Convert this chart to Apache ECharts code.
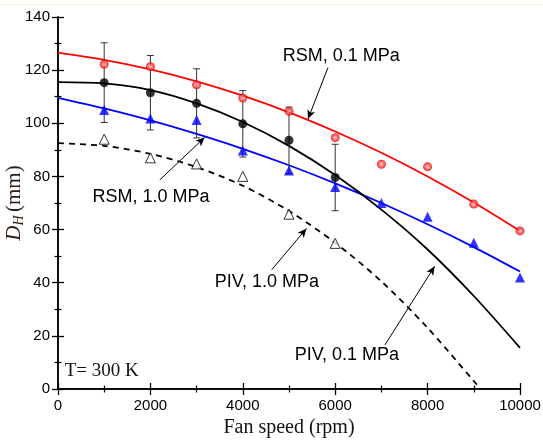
<!DOCTYPE html>
<html><head><meta charset="utf-8">
<script src="https://cdn.jsdelivr.net/npm/echarts@6/dist/echarts.min.js"></script>
<style>html,body{margin:0;padding:0;background:#fff}#c{width:543px;height:440px}</style>
</head><body><div id="c"></div>
<script>
// ---- data ----
const speeds = [1000, 2000, 3000, 4000, 5000, 6000, 7000, 8000, 9000, 10000];
const redPoints = [122.2, 121.3, 114.5, 109.5, 104.5, 94.6, 84.6, 83.6, 69.6, 59.5];
const blackSpeeds = [1000, 2000, 3000, 4000, 5000, 6000];
const blackPoints = [115.3, 111.5, 107.5, 99.8, 93.6, 79.6];
const blackErr = [15, 14, 13, 12.5, 12.5, 12.5];
const bluePoints = [105, 101.8, 101.2, 89.8, 82.2, 76, 70, 64.8, 55, 42];
const openSpeeds = [1000, 2000, 3000, 4000, 5000, 6000];
const openPoints = [94, 87, 84.7, 80, 65.8, 54.8];
// fitted curves
const curveX = [0, 1000, 2000, 3000, 4000, 5000, 6000, 7000, 8000, 9000, 10000];
const redCurve = [126.6, 123.9, 120.3, 115.8, 110.4, 104.1, 96.9, 88.9, 80, 70.2, 59.5];
const blackCurve = [115.5, 115, 112.5, 107.5, 100.5, 91.5, 80.5, 67.5, 52.5, 35, 15.5];
const blueCurve = [109.6, 105.6, 101.1, 96, 90.4, 84.2, 77.4, 70, 62, 53.4, 44.2];
const dashX = [0, 1000, 2000, 3000, 4000, 5000, 6000, 7000, 8000, 9000, 9150];
const dashCurve = [92.5, 91.5, 88.5, 83.5, 76.5, 67, 55, 40.5, 23, 3, 0];
// annotations: [text, x, y] (data coords of text left/center) and arrows [from, to]
const annTexts = [
  ['RSM, 0.1 MPa', 4864, 125.3],
  ['RSM, 1.0 MPa', 745, 72.2],
  ['PIV, 1.0 MPa', 3392, 40.2],
  ['PIV, 0.1 MPa', 5123, 12.9]
];
const annArrows = [
  [[5844, 121], [5411, 101.6]],
  [[2203, 78.7], [3175, 94.7]],
  [[4626, 44.9], [5379, 60.4]],
  [[7078, 16.6], [8153, 46.2]]
];
const tempLabel = ['T= 300 K', 145, 6.9];

const zip = (xs, ys) => xs.map((x, i) => [x, ys[i]]);
const errData = blackSpeeds.map((x, i) => [x, blackPoints[i] - blackErr[i], blackPoints[i] + blackErr[i]]);

const chart = echarts.init(document.getElementById('c'), null, {renderer: 'canvas'});
const axisCommon = {
  axisLine: {lineStyle: {color: '#000', width: 1.5}},
  axisTick: {inside: true, length: 6, lineStyle: {color: '#000', width: 1.3}},
  minorTick: {show: true, splitNumber: 2, length: 3.5, lineStyle: {color: '#000', width: 1.2}},
  splitLine: {show: false}
};
const labelFont = {fontFamily: 'Liberation Sans, Arial', fontSize: 15, color: '#000'};
const curveCommon = {smooth: 0.3, symbol: 'none', z: 2};

const option = {
  animation: false,
  backgroundColor: '#fff',
  grid: {left: 58, right: 23, top: 17, bottom: 51, containLabel: false, outerBoundsMode: 'none'},
  xAxis: [
    Object.assign({type: 'value', min: 0, max: 10000, interval: 2000, position: 'bottom',
      name: 'Fan speed (rpm)', nameLocation: 'middle', nameGap: 25,
      nameTextStyle: {fontFamily: 'Liberation Serif, Times New Roman', fontSize: 20, color: '#111'},
      axisLabel: Object.assign({margin: 9, formatter: v => String(v)}, labelFont)}, axisCommon),
    Object.assign({type: 'value', min: 0, max: 10000, interval: 2000, position: 'top',
      axisLabel: {show: false}}, axisCommon)
  ],
  yAxis: [
    Object.assign({type: 'value', min: 0, max: 140, interval: 20, position: 'left',
      axisLabel: Object.assign({margin: 8, formatter: v => String(v)}, labelFont)}, axisCommon),
    Object.assign({type: 'value', min: 0, max: 140, interval: 20, position: 'right',
      axisLabel: {show: false}}, axisCommon)
  ],
  series: [
    Object.assign({type: 'line', name: 'RSM, 0.1 MPa', data: zip(curveX, redCurve),
      lineStyle: {color: '#ff0000', width: 1.8},
      markLine: {silent: true, symbol: ['none', 'arrow'], symbolSize: [6, 9],
        lineStyle: {color: '#000', width: 1, type: 'solid'}, label: {show: false},
        data: annArrows.map(a => [{coord: a[0]}, {coord: a[1]}])}}, curveCommon),
    Object.assign({type: 'line', name: 'RSM, 1.0 MPa', data: zip(curveX, blueCurve),
      lineStyle: {color: '#0000ff', width: 1.8}}, curveCommon),
    Object.assign({type: 'line', name: 'PIV, 0.1 MPa', data: zip(curveX, blackCurve),
      lineStyle: {color: '#000', width: 1.8}}, curveCommon),
    Object.assign({type: 'line', name: 'PIV, 1.0 MPa', data: zip(dashX, dashCurve),
      lineStyle: {color: '#000', width: 1.8, type: [6, 5]}}, curveCommon),
    {type: 'custom', name: 'error', data: errData, z: 3,
      renderItem: (params, api) => {
        const x = api.value(0);
        const lo = api.coord([x, api.value(1)]);
        const hi = api.coord([x, api.value(2)]);
        const w = 3.5;
        const st = {stroke: '#333', lineWidth: 1};
        return {type: 'group', children: [
          {type: 'line', shape: {x1: hi[0], y1: hi[1], x2: lo[0], y2: lo[1]}, style: st},
          {type: 'line', shape: {x1: hi[0] - w, y1: hi[1], x2: hi[0] + w, y2: hi[1]}, style: st},
          {type: 'line', shape: {x1: lo[0] - w, y1: lo[1], x2: lo[0] + w, y2: lo[1]}, style: st}
        ]};
      }},
    {type: 'scatter', name: 'red pts', data: zip(speeds, redPoints), symbol: 'circle', symbolSize: 9, z: 4,
      itemStyle: {color: new echarts.graphic.RadialGradient(0.5, 0.5, 0.5, [
        {offset: 0, color: '#ffc8c8'}, {offset: 0.45, color: '#ff6060'}, {offset: 1, color: '#e00000'}])}},
    {type: 'scatter', name: 'black pts', data: zip(blackSpeeds, blackPoints), symbol: 'circle', symbolSize: 9, z: 4,
      itemStyle: {color: '#000'}},
    {type: 'scatter', name: 'blue pts', data: zip(speeds, bluePoints), symbol: 'triangle', symbolSize: 10, z: 4,
      itemStyle: {color: '#0000ff'}},
    {type: 'scatter', name: 'open pts', data: zip(openSpeeds, openPoints), symbol: 'triangle', symbolSize: 10, z: 4,
      itemStyle: {color: '#fff', borderColor: '#000', borderWidth: 1}}
  ]
};
chart.setOption(option);

function place() {
  const g = [{type: 'rect', shape: {x: 0, y: 4, width: 543, height: 1}, style: {fill: '#fbf3c4'}, silent: true}];
  annTexts.forEach(t => {
    const p = chart.convertToPixel({gridIndex: 0}, [t[1], t[2]]);
    g.push({type: 'text', x: p[0], y: p[1], silent: true, z: 10,
      style: {text: t[0], fill: '#000', font: '18px "Liberation Sans", Arial', verticalAlign: 'middle'}});
  });
  const tp = chart.convertToPixel({gridIndex: 0}, [tempLabel[1], tempLabel[2]]);
  g.push({type: 'text', x: tp[0], y: tp[1], silent: true, z: 10,
    style: {text: tempLabel[0], fill: '#111', font: '19px "Liberation Serif", "Times New Roman"', verticalAlign: 'middle'}});
  // y-axis title, centred on the axis middle
  const mid = chart.convertToPixel({gridIndex: 0}, [0, 70]);
  g.push({type: 'text', x: mid[0] - 44, y: mid[1], rotation: Math.PI / 2, silent: true, z: 10,
    style: {text: '{d|D}{h|H} {m|(mm)}', align: 'center', verticalAlign: 'middle',
      rich: {
        d: {fontFamily: 'Liberation Serif', fontStyle: 'italic', fontSize: 21, fill: '#2a1a10'},
        h: {fontFamily: 'Liberation Serif', fontStyle: 'italic', fontSize: 14, fill: '#2a1a10', padding: [10, 0, 0, 0]},
        m: {fontFamily: 'Liberation Serif', fontSize: 21, fill: '#2a1a10'}
      }}});
  chart.setOption({graphic: g});
}
place();
</script>
</body></html>
